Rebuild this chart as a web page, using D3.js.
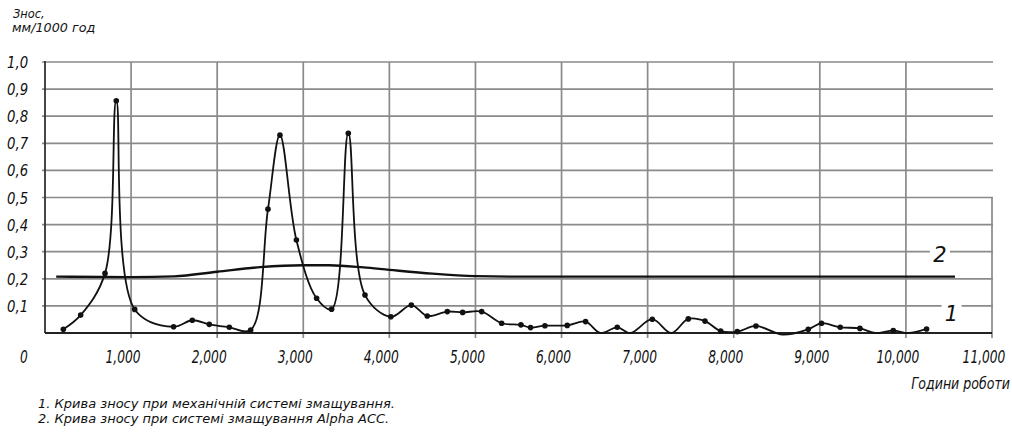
<!DOCTYPE html>
<html><head><meta charset="utf-8">
<script src="https://cdn.jsdelivr.net/npm/d3@7"></script>
<style>
html,body{margin:0;padding:0;background:#fff;}
text{font-family:"DejaVu Sans",sans-serif;font-style:italic;fill:#111;}
</style></head>
<body><svg id="c" width="1012" height="432"></svg>
<script>
// ---- data ----
const xTicks = [0,1000,2000,3000,4000,5000,6000,7000,8000,9000,10000,11000];
const xTickLabels = ["0","1,000","2,000","3,000","4,000","5,000","6,000","7,000","8,000","9,000","10,000","11,000"];
const yTicks = [0.1,0.2,0.3,0.4,0.5,0.6,0.7,0.8,0.9,1.0];
const yTickLabels = ["0,1","0,2","0,3","0,4","0,5","0,6","0,7","0,8","0,9","1,0"];

// curve 1: mechanical lubrication system (with points)
const hours1 = [213,414,697,828,1042,1494,1711,1908,2141,2389,2590,2729,2920,3155,3329,3523,3717,4017,4255,4440,4673,4851,5072,5304,5528,5640,5807,6066,6279,6450,6647,6800,7054,7275,7472,7666,7848,8041,8258,8570,8866,9020,9237,9466,9640,9853,10030,10240];
const wear1  = [0.014,0.066,0.22,0.857,0.087,0.023,0.047,0.032,0.021,0.011,0.457,0.73,0.343,0.128,0.088,0.737,0.14,0.06,0.103,0.063,0.079,0.076,0.079,0.036,0.03,0.02,0.027,0.028,0.042,0.0,0.021,0.0,0.051,0.0,0.052,0.044,0.007,0.005,0.026,-0.006,0.014,0.036,0.021,0.017,0.0,0.009,0.0,0.015];
const marked1 = [1,1,1,1,1,1,1,1,1,1,1,1,1,1,1,1,1,1,1,1,1,1,1,1,1,1,1,1,1,0,1,0,1,0,1,1,1,1,1,0,1,1,1,1,0,1,0,1];

// curve 2: Alpha ACC lubrication system
const hours2 = [130,1000,1500,2000,2500,3000,3300,3700,4000,4500,5000,5500,7000,9000,10570];
const wear2  = [0.208,0.206,0.209,0.226,0.243,0.25,0.25,0.242,0.233,0.219,0.21,0.208,0.208,0.208,0.208];

const yTitle = ["Знос,","мм/1000 год"];
const xTitle = "Години роботи";
const legendLines = ["1. Крива зносу при механічній системі змащування.","2. Крива зносу при системі змащування Alpha ACC."];
const curveLabels = ["1","2"];

// ---- drawing ----
const svg = d3.select("#c");
const x = d3.scaleLinear().domain([0,11000]).range([45,992]);
const y = d3.scaleLinear().domain([0,1]).range([333,62]);
const gridColor = "#8a8a8a";

// condensed text helper
function ctext(parent, tx, ty, str, size, sx, anchor){
  const g = parent.append("g").attr("transform",`translate(${tx},${ty}) scale(${sx},1)`);
  return g.append("text").attr("x",0).attr("y",0)
    .attr("text-anchor", anchor||"start").style("font-size", size+"px").text(str);
}

// horizontal grid lines
svg.append("g").selectAll("line").data(yTicks).join("line")
  .attr("x1", x(0)-3).attr("x2", x(11000)+1)
  .attr("y1", d=>y(d)).attr("y2", d=>y(d))
  .attr("stroke", gridColor).attr("stroke-width", 1.7);

// vertical grid lines
svg.append("g").selectAll("line").data(xTicks.filter(d=>d>0)).join("line")
  .attr("x1", d=>x(d)).attr("x2", d=>x(d))
  .attr("y1", d=> d===11000 ? y(0.5) : y(1)).attr("y2", y(0)+5)
  .attr("stroke", gridColor).attr("stroke-width", 1.7);

// axes
svg.append("line").attr("x1",x(0)).attr("x2",x(0)).attr("y1",y(1)-1).attr("y2",y(0))
  .attr("stroke","#333").attr("stroke-width",1.8);
svg.append("line").attr("x1",x(0)).attr("x2",x(11000)).attr("y1",y(0)).attr("y2",y(0))
  .attr("stroke","#222").attr("stroke-width",2);

// y tick labels
const gy = svg.append("g");
yTicks.forEach((d,i)=> ctext(gy, 7, y(d)+6, yTickLabels[i], 16, 0.83, "start"));

// x tick labels
const gx = svg.append("g");
xTicks.forEach((d,i)=> ctext(gx, d===0 ? x(d)-21 : x(d)-8, 363, xTickLabels[i], 17, 0.72, "middle"));

// titles
ctext(svg, 13, 18, yTitle[0], 12, 0.95, "start");
ctext(svg, 12, 32, yTitle[1], 12.5, 1.02, "start");
ctext(svg, 1010, 389, xTitle, 15, 0.84, "end");
legendLines.forEach((t,i)=> ctext(svg, 38, 408+i*15, t, 13, 1.0, "start"));

// curve labels with background gaps
const labelPos = [{v:0.1, h:10530, dy:8}, {v:0.3, h:10395, dy:3}];
curveLabels.forEach((t,i)=>{
  const p = labelPos[i];
  svg.append("rect").attr("x", x(p.h)-10).attr("y", y(p.v)-2).attr("width",20).attr("height",4).attr("fill","#fff");
  svg.append("text").attr("x", x(p.h)).attr("y", y(p.v)+p.dy).attr("dy","0.36em")
    .attr("text-anchor","middle").style("font-size","21px").text(t);
});

// curve 2
const pts2 = hours2.map((h,i)=>[h,wear2[i]]);
svg.append("path").datum(pts2)
  .attr("d", d3.line().x(d=>x(d[0])).y(d=>y(d[1])).curve(d3.curveMonotoneX))
  .attr("fill","none").attr("stroke","#111").attr("stroke-width",2.4);

// curve 1
const pts1 = hours1.map((h,i)=>[h,wear1[i],marked1[i]]);
svg.append("path").datum(pts1)
  .attr("d", d3.line().x(d=>x(d[0])).y(d=>y(d[1])).curve(d3.curveCatmullRom.alpha(0.5)))
  .attr("fill","none").attr("stroke","#111").attr("stroke-width",1.8);
svg.append("g").selectAll("circle").data(pts1.filter(d=>d[2])).join("circle")
  .attr("cx", d=>x(d[0])).attr("cy", d=>y(d[1])).attr("r",2.8).attr("fill","#111");
</script></body></html>
